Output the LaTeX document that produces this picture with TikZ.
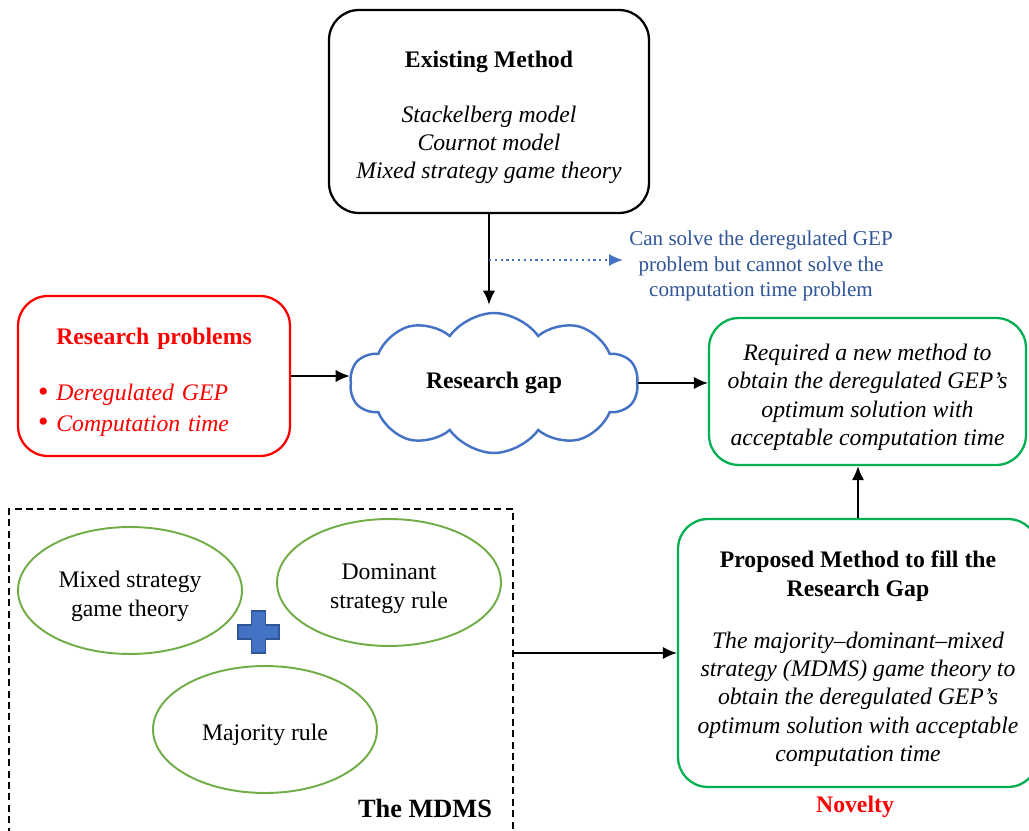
\documentclass[tikz,border=0pt]{standalone}
\usepackage{fontspec}
\setmainfont{Liberation Serif}
\usetikzlibrary{shapes.symbols,shapes.geometric,calc,arrows.meta}
\definecolor{boxgreen}{HTML}{00B050}
\definecolor{leafgreen}{HTML}{70AD47}
\definecolor{cloudblue}{HTML}{4472C4}
\definecolor{noteblue}{HTML}{2F5597}
\newcommand{\redbullet}{\raisebox{-0.5pt}{\fontsize{17}{16}\selectfont\textbullet}}
\newcommand{\topstrut}{\rule{0pt}{16pt}}
\tikzset{
  >={Latex[length=8pt,width=7pt]},
  every node/.style={font=\fontsize{13.5}{16}\selectfont},
  roundbox/.style={draw,line width=1.3pt,rounded corners=17pt,align=center,inner sep=0pt},
  idea/.style={draw=leafgreen,line width=1.1pt,ellipse,align=center,
    minimum width=4.48cm,minimum height=2.54cm,inner sep=0pt},
  link/.style={->,line width=1pt},
}
\begin{document}
\begin{tikzpicture}[x=0.02cm,y=-0.02cm]
    \useasboundingbox (0,0) rectangle (1029,831);
    \clip (0,0) rectangle (1029,831);
    % top and middle row
    \node[roundbox,minimum width=6.4cm,minimum height=4.06cm] (exist) at (489,111.5)
      {\topstrut\textbf{Existing Method}\\[15pt]\textit{Stackelberg model}\\
       \textit{Cournot model}\\ \textit{Mixed strategy game theory}};
    \node[roundbox,draw=red,text=red,minimum width=5.44cm,minimum height=3.2cm,
      text width=4.64cm,align=left] (probs) at (154,376)
      {\makebox[\linewidth]{\topstrut\textbf{Research problems}}\\[16pt]
       \redbullet\ \textit{Deregulated GEP}\\[1.5pt]
       \redbullet\ \textit{Computation time}};
    \node[cloud,cloud puffs=10,cloud puff arc=110,aspect=2,draw=cloudblue,
      line width=1.4pt,minimum width=5.76cm,minimum height=2.8cm] (gap) at (494,383)
      {\textbf{Research gap}};
    \node[roundbox,draw=boxgreen,minimum width=6.34cm,minimum height=2.94cm] (need)
      at (867.5,391.5)
      {\topstrut\textit{Required a new method to}\\ \textit{obtain the deregulated GEP's}\\
       \textit{optimum solution with}\\ \textit{acceptable computation time}};
    \node[text=noteblue,font=\fontsize{12}{14.4}\selectfont,align=center] (note)
      at (761,266) {Can solve the deregulated GEP\\ problem but cannot solve the\\
       computation time problem};
    % bottom row
    \node[draw,dash pattern=on 4pt off 2.5pt,line width=1.2pt,minimum width=10.08cm,
      minimum height=6.82cm] (mdms) at (261,679.5) {};
    \node[idea] (mixed) at (130,590.5) {\topstrut Mixed strategy\\ game theory};
    \node[idea] (dom) at (389,582.5) {\topstrut Dominant\\ strategy rule};
    \node[idea] (maj) at (265,729.5) {\topstrut Majority rule};
    \node (mdmstitle) at (425,808) {\fontsize{15}{18}\selectfont\textbf{The MDMS}};
    \filldraw[fill=cloudblue,draw=noteblue,line width=0.9pt]
      (251.5,611) -- (265.5,611) -- (265.5,625) -- (279,625) -- (279,639)
      -- (265.5,639) -- (265.5,653) -- (251.5,653) -- (251.5,639) -- (238,639)
      -- (238,625) -- (251.5,625) -- cycle;
    \node[roundbox,draw=boxgreen,minimum width=7.2cm,minimum height=5.36cm] (prop)
      at (858,653)
      {\topstrut\textbf{Proposed Method to fill the}\\ \textbf{Research Gap}\\[14pt]
       \textit{The majority--dominant--mixed}\\ \textit{strategy (MDMS) game theory to}\\
       \textit{obtain the deregulated GEP's}\\ \textit{optimum solution with acceptable}\\
       \textit{computation time}};
    \node[text=red] (novelty) at (855,807) {\textbf{Novelty}};
    % connectors
    \coordinate (split) at ($(exist.south)!0.47!(exist.south |- gap.north)$);
    \begin{scope}[link]
      \draw (exist.south) -- ([yshift=4pt]exist.south |- gap.north);
      \draw (probs.east) -- (probs.east -| gap.west);
      \draw (gap.east) -- (gap.east -| need.west);
      \draw (prop.north) -- (prop.north |- need.south);
      \draw (mdms.east |- prop.west) -- (prop.west);
    \end{scope}
    \draw[->,cloudblue,line width=1.3pt,dotted] (split) -- (split -| note.west);
  \end{tikzpicture}
\end{document}
